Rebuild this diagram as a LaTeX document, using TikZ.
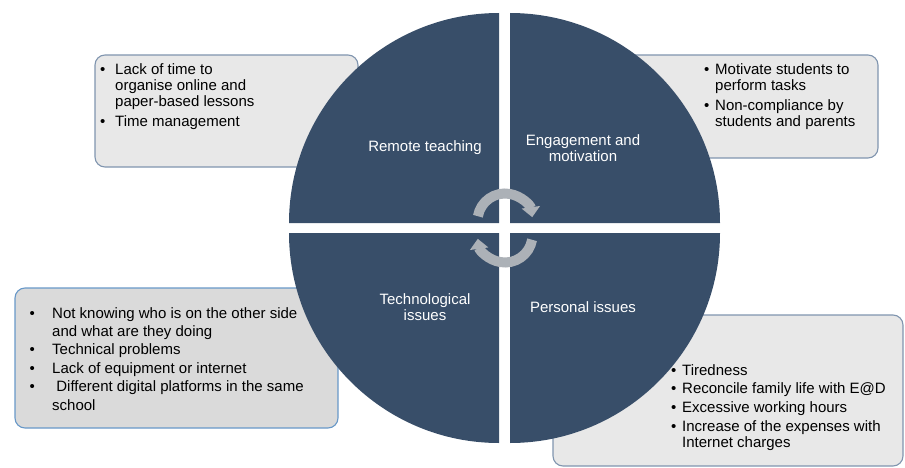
\documentclass[tikz,border=0pt]{standalone}
\usepackage{fontspec}
\setmainfont{Liberation Sans}
\usetikzlibrary{arrows.meta}

\definecolor{quadblue}{RGB}{56,78,105}
\definecolor{boxfill}{RGB}{232,232,232}
\definecolor{boxline}{RGB}{128,149,175}
\definecolor{boxfilldark}{RGB}{218,218,218}
\definecolor{boxlineblue}{RGB}{104,152,200}
\definecolor{cycgray}{RGB}{172,177,183}

\begin{document}
\begin{tikzpicture}[x=1pt,y=1pt,
    quad/.style={fill=quadblue},
    qlabel/.style={text=white,font=\fontsize{15}{16}\selectfont,align=center},
    infobox/.style={draw=boxline,fill=boxfill,line width=1.1pt,rounded corners=10pt},
    listtext/.style={anchor=base west,inner sep=0pt},
    cyc/.style={cycgray,line width=10pt,-{Triangle[length=10pt,width=18pt]}}]

    \useasboundingbox (0,0) rectangle (905,467);

    % Draw the boxes behind the circle
    \draw[infobox] (95,300) rectangle (358,412);
    \draw[infobox] (580,309) rectangle (878,412);
    \draw[infobox,draw=boxlineblue,fill=boxfilldark] (15,39) rectangle (338,179);
    \draw[infobox] (553,1) rectangle (903,152);

    % Box texts
    \node[listtext,font=\fontsize{15}{15.5}\selectfont] (tlist) at (100,392) {%
        \begin{tabular}[t]{@{}l@{\hspace{9.75pt}}l@{}}
            \textbullet & Lack of time to\\
                        & organise online and\\
                        & paper-based lessons\\[4.5pt]
            \textbullet & Time management
        \end{tabular}};
    \node[listtext,font=\fontsize{15}{15.5}\selectfont] (elist) at (704,392) {%
        \begin{tabular}[t]{@{}l@{\hspace{5.75pt}}l@{}}
            \textbullet & Motivate students to\\
                        & perform tasks\\[4.5pt]
            \textbullet & Non-compliance by\\
                        & students and parents
        \end{tabular}};
    \node[listtext,font=\fontsize{15}{18.4}\selectfont] (techlist) at (29.5,149) {%
        \begin{tabular}[t]{@{}l@{\hspace{17.25pt}}l@{}}
            \textbullet & Not knowing who is on the other side\\
                        & and what are they doing\\
            \textbullet & Technical problems\\
            \textbullet & Lack of equipment or internet\\
            \textbullet & \ Different digital platforms in the same\\
                        & school
        \end{tabular}};
    \node[listtext,font=\fontsize{15}{16.7}\selectfont] (plist) at (671,92) {%
        \begin{tabular}[t]{@{}l@{\hspace{5.75pt}}l@{}}
            \textbullet & Tiredness\\[2pt]
            \textbullet & Reconcile family life with E@D\\[2pt]
            \textbullet & Excessive working hours\\[2pt]
            \textbullet & Increase of the expenses with\\
                        & Internet charges
        \end{tabular}};

    % Four quarters of the circle
    \fill[quad] (499,244) -- (289,244) arc[start angle=180,end angle=90,radius=210] -- cycle;
    \fill[quad] (510,244) -- (510,454) arc[start angle=90,end angle=0,radius=210] -- cycle;
    \fill[quad] (499,234) -- (499,24) arc[start angle=270,end angle=180,radius=210] -- cycle;
    \fill[quad] (510,234) -- (720,234) arc[start angle=0,end angle=-90,radius=210] -- cycle;

    % Quarter labels
    \node[qlabel] (remote) at (425,319) {Remote teaching};
    \node[qlabel] (engage) at (583,319) {Engagement and\\motivation};
    \node[qlabel] (tech) at (425,160) {Technological\\issues};
    \node[qlabel] (personal) at (583,160) {Personal issues};

    % Cycle arrows
    \draw[cyc] (505,246) ++(170:27.5) arc[start angle=170,end angle=8,radius=27.5];
    \draw[cyc] (505,232) ++(-10:27.5) arc[start angle=-10,end angle=-172,radius=27.5];
\end{tikzpicture}
\end{document}
